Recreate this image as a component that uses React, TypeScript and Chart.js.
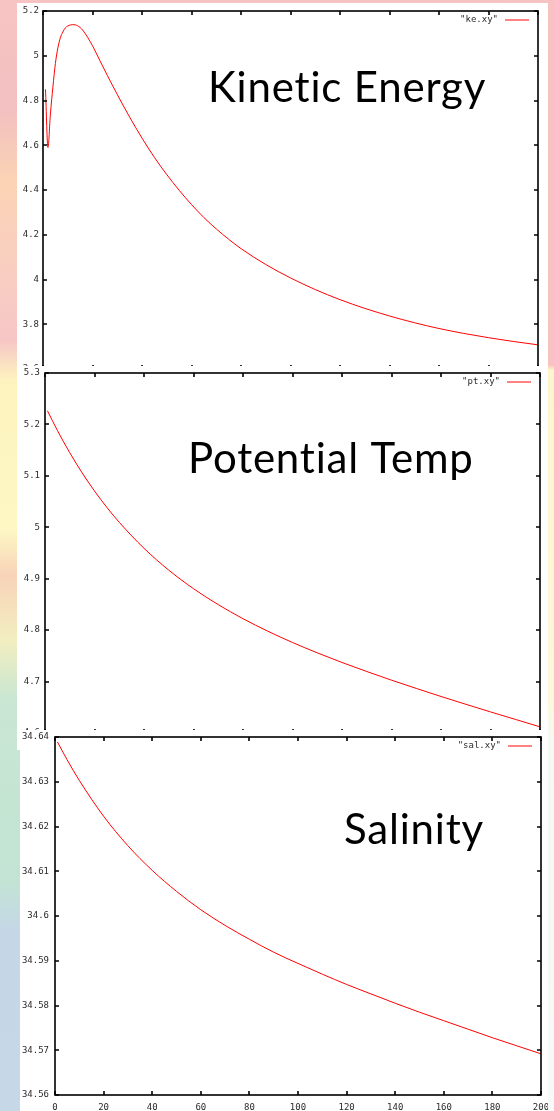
import React, { useEffect, useRef } from "react";
import { Chart, registerables } from "chart.js";

Chart.register(...registerables);

// ---------- data ----------
const xTicks = [0, 20, 40, 60, 80, 100, 120, 140, 160, 180, 200];

const keTime = [1, 2, 3, 4, 5, 6, 7, 8, 9, 10, 12, 14, 16, 18, 20, 23, 26, 30, 35, 40, 45, 50, 55, 60, 65, 70, 75, 80, 90, 100, 110, 120, 130, 140, 150, 160, 170, 180, 190, 200];
const keValues = [4.85, 4.59, 4.74, 4.86, 4.965, 5.035, 5.08, 5.106, 5.124, 5.133, 5.139, 5.134, 5.115, 5.083, 5.045, 4.978, 4.912, 4.827, 4.726, 4.632, 4.546, 4.469, 4.399, 4.335, 4.277, 4.226, 4.18, 4.138, 4.067, 4.007, 3.955, 3.91, 3.871, 3.837, 3.807, 3.781, 3.759, 3.74, 3.723, 3.708];
const keTicks = [3.6, 3.8, 4, 4.2, 4.4, 4.6, 4.8, 5, 5.2];

const ptTime = [1, 5, 10, 15, 20, 25, 30, 40, 50, 60, 70, 80, 90, 100, 110, 120, 130, 140, 150, 160, 170, 180, 190, 200];
const ptValues = [5.2265, 5.1883, 5.145, 5.1059, 5.0706, 5.0386, 5.0097, 4.9591, 4.9167, 4.8806, 4.8496, 4.8222, 4.798, 4.776, 4.7559, 4.7371, 4.7196, 4.7027, 4.6867, 4.671, 4.6559, 4.641, 4.6265, 4.612];
const ptTicks = [4.6, 4.7, 4.8, 4.9, 5, 5.1, 5.2, 5.3];

const salTime = [1, 5, 10, 20, 30, 40, 50, 60, 70, 80, 90, 100, 110, 120, 130, 140, 150, 160, 170, 180, 190, 200];
const salValues = [34.6389, 34.6349, 34.6303, 34.6223, 34.6157, 34.6102, 34.6055, 34.6014, 34.5979, 34.5948, 34.5919, 34.5894, 34.587, 34.5847, 34.5826, 34.5805, 34.5785, 34.5766, 34.5747, 34.5728, 34.571, 34.5692];
const salTicks = [34.56, 34.57, 34.58, 34.59, 34.6, 34.61, 34.62, 34.63, 34.64];

const TICK_FONT = { family: "DejaVu Sans Mono", size: 9 };
const TICK_COLOR = "#2a2a2a";

type Box = { left: number; top: number; width: number; height: number };
type Area = { left: number; top: number; right: number; bottom: number };

type PanelProps = {
  time: number[];
  values: number[];
  yTicks: number[];
  label: string;
  title: string;
  titleX: number;
  titleY: number;
  box: Box;
  area: Area;
  showX: boolean;
  labelPad: number;
  z: number;
};

const fmt = (v: number) => String(parseFloat(Number(v).toFixed(4)));

function Panel(p: PanelProps) {
  const ref = useRef<HTMLCanvasElement | null>(null);
  useEffect(() => {
    if (!ref.current) return;
    const xAxisH = 16;
    const frame = {
      id: "gnuplotFrame",
      afterDraw(chart: any) {
        const { ctx, chartArea } = chart;
        const { left, right, top, bottom } = chartArea;
        const xs = chart.scales.x;
        const ys = chart.scales.y;
        ctx.save();
        ctx.strokeStyle = "#000";
        ctx.lineWidth = 1.6;
        ctx.beginPath();
        for (const t of ys.ticks) {
          const py = Math.round(ys.getPixelForValue(t.value));
          ctx.moveTo(left, py);
          ctx.lineTo(left + 4, py);
          ctx.moveTo(right - 4, py);
          ctx.lineTo(right, py);
        }
        for (const t of xs.ticks) {
          const px = Math.round(xs.getPixelForValue(t.value));
          ctx.moveTo(px, top);
          ctx.lineTo(px, top + 4);
          ctx.moveTo(px, bottom - 4);
          ctx.lineTo(px, bottom);
        }
        ctx.stroke();
        ctx.strokeRect(left, top, right - left, bottom - top);
        // key
        const ly = top + 9;
        ctx.font = "9px 'DejaVu Sans Mono'";
        ctx.fillStyle = TICK_COLOR;
        ctx.textAlign = "right";
        ctx.textBaseline = "middle";
        ctx.fillText('"' + p.label + '"', right - 40, ly);
        ctx.strokeStyle = "#ff3030";
        ctx.lineWidth = 1.2;
        ctx.beginPath();
        ctx.moveTo(right - 33, ly);
        ctx.lineTo(right - 9, ly);
        ctx.stroke();
        // slide title
        ctx.font = "42px Lato";
        ctx.fillStyle = "#000";
        ctx.textAlign = "left";
        ctx.textBaseline = "alphabetic";
        try {
          (ctx as any).letterSpacing = "0.8px";
        } catch (e) {}
        ctx.fillText(p.title, p.titleX - p.box.left, p.titleY - p.box.top);
        ctx.restore();
      },
    };
    const a = p.area;
    const chart = new Chart(ref.current, {
      type: "line",
      data: {
        datasets: [
          {
            label: p.label,
            data: p.time.map((t, i) => ({ x: t, y: p.values[i] })),
            borderColor: "#ff0000",
            borderWidth: 1,
            pointRadius: 0,
            fill: false,
            cubicInterpolationMode: "monotone",
          },
        ],
      },
      options: {
        responsive: false,
        animation: false,
        devicePixelRatio: 1,
        events: [],
        layout: {
          padding: {
            left: 0,
            top: a.top,
            right: p.box.width - a.right,
            bottom: p.showX ? p.box.height - a.bottom - xAxisH : p.box.height - a.bottom,
          },
        },
        plugins: { legend: { display: false }, tooltip: { enabled: false } },
        scales: {
          x: {
            type: "linear",
            min: 0,
            max: 200,
            afterBuildTicks: (s: any) => {
              s.ticks = xTicks.map((v) => ({ value: v }));
            },
            afterFit: (s: any) => {
              s.height = p.showX ? xAxisH : 0;
              s.paddingLeft = 0;
              s.paddingRight = 0;
            },
            grid: { display: false, drawTicks: false },
            border: { display: false },
            ticks: {
              display: p.showX,
              padding: 7,
              font: TICK_FONT,
              color: TICK_COLOR,
              maxRotation: 0,
              autoSkip: false,
              callback: (v: any) => fmt(v),
            },
          },
          y: {
            type: "linear",
            min: p.yTicks[0],
            max: p.yTicks[p.yTicks.length - 1],
            afterBuildTicks: (s: any) => {
              s.ticks = p.yTicks.map((v) => ({ value: v }));
            },
            afterFit: (s: any) => {
              s.width = a.left;
              s.paddingTop = 0;
              s.paddingBottom = 0;
            },
            grid: { display: false, drawTicks: false },
            border: { display: false },
            ticks: {
              padding: p.labelPad,
              font: TICK_FONT,
              color: TICK_COLOR,
              autoSkip: false,
              callback: (v: any) => fmt(v),
            },
          },
        },
      },
      plugins: [frame],
    } as any);
    return () => chart.destroy();
  }, []);
  return (
    <canvas
      ref={ref}
      width={p.box.width}
      height={p.box.height}
      style={{
        position: "absolute",
        left: p.box.left,
        top: p.box.top,
        width: p.box.width,
        height: p.box.height,
        background: "#ffffff",
        zIndex: p.z,
        display: "block",
      }}
    />
  );
}

export default function App() {
  return (
    <div
      style={{
        position: "absolute",
        left: 0,
        top: 0,
        width: 554,
        height: 1111,
        overflow: "hidden",
        background:
          "linear-gradient(to bottom, #f7c3c3 0px, #f2c0c0 110px, #fbd3b4 180px, #f9cfc0 260px, #f6c6c6 340px, #fdf3bf 380px, #fdf7c4 530px, #f8d3b8 575px, #f2eec0 640px, #c8e6d2 700px, #c3e4d4 880px, #c5d7e6 930px, #c6d8e8 1111px)",
      }}
    >
      <div
        style={{
          position: "absolute",
          left: 548,
          top: 0,
          width: 6,
          height: 1111,
          background:
            "linear-gradient(to bottom, #f8c2c2 0px, #f8c2c2 365px, #fdf5cc 370px, #fdf8dc 700px, #f6f8f4 740px, #f8f9f8 1111px)",
        }}
      />
      <Panel
        time={keTime}
        values={keValues}
        yTicks={keTicks}
        label="ke.xy"
        title="Kinetic Energy"
        titleX={208}
        titleY={102}
        box={{ left: 17, top: 3, width: 531, height: 372 }}
        area={{ left: 26, top: 8, right: 521, bottom: 366 }}
        showX={false}
        labelPad={4}
        z={1}
      />
      <Panel
        time={ptTime}
        values={ptValues}
        yTicks={ptTicks}
        label="pt.xy"
        title="Potential Temp"
        titleX={188}
        titleY={473}
        box={{ left: 17, top: 366, width: 531, height: 384 }}
        area={{ left: 28, top: 7, right: 523, bottom: 367 }}
        showX={false}
        labelPad={5}
        z={2}
      />
      <Panel
        time={salTime}
        values={salValues}
        yTicks={salTicks}
        label="sal.xy"
        title="Salinity"
        titleX={344}
        titleY={844}
        box={{ left: 20, top: 730, width: 528, height: 381 }}
        area={{ left: 35, top: 7, right: 521, bottom: 365 }}
        showX={true}
        labelPad={6}
        z={3}
      />
    </div>
  );
}
